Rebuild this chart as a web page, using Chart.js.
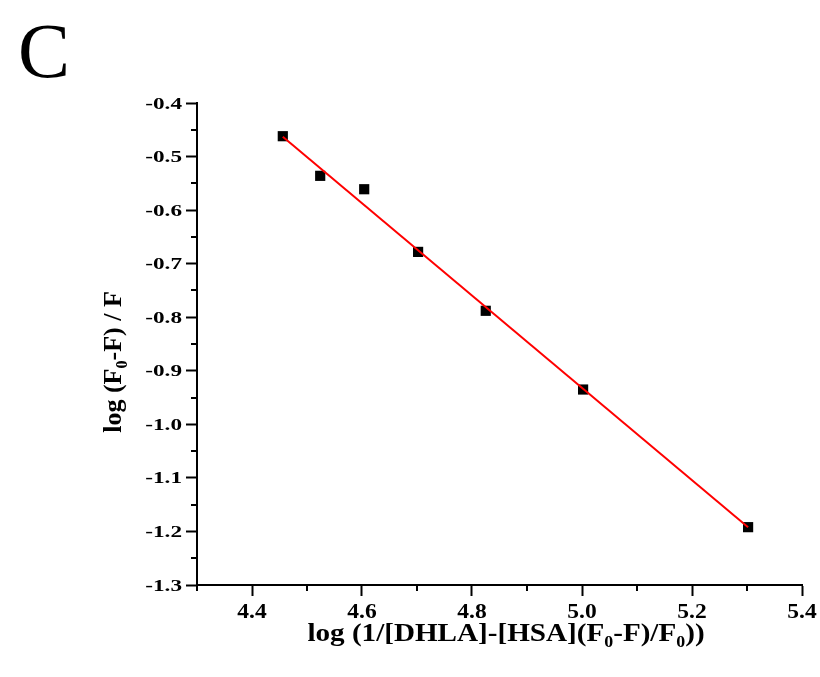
<!DOCTYPE html>
<html>
<head>
<meta charset="utf-8">
<script src="https://cdn.jsdelivr.net/npm/chart.js@4.4.1/dist/chart.umd.min.js"></script>
<style>
  html, body { margin: 0; padding: 0; background: #fff; }
  #wrap { width: 820px; height: 677px; }
</style>
</head>
<body>
<div id="wrap"><canvas id="chart"></canvas></div>
<script>
// measured points
const xValues = [4.456, 4.524, 4.604, 4.702, 4.825, 5.002, 5.302];
const yValues = [-0.462, -0.536, -0.561, -0.678, -0.788, -0.935, -1.192];

// linear fit end points
const fitX = [4.456, 5.302];
const fitY = [-0.463, -1.192];

// tick labels
const xTickLabels = ["4.4", "4.6", "4.8", "5.0", "5.2", "5.4"];
const yTickLabels = ["-0.4", "-0.5", "-0.6", "-0.7", "-0.8", "-0.9", "-1.0", "-1.1", "-1.2", "-1.3"];

const panelLetter = "C";
const xTitle = [["log (1/[DHLA]-[HSA](F", false], ["0", true], ["-F)/F", false], ["0", true], ["))", false]];
const yTitle = [["log (F", false], ["0", true], ["-F) / F", false]];

const SERIF = '"Liberation Serif", "Times New Roman", serif';

function fontFor(size, sub) {
  return "bold " + (sub ? Math.round(size * 0.62) : size) + "px " + SERIF;
}

// draw text with subscripts, centred on the current origin
function drawParts(ctx, parts, size, sx) {
  let w = 0;
  parts.forEach(([t, sub]) => {
    ctx.font = fontFor(size, sub);
    w += ctx.measureText(t).width;
  });
  let x = -w / 2;
  ctx.save();
  ctx.scale(sx, 1);
  ctx.textAlign = "left";
  ctx.textBaseline = "alphabetic";
  parts.forEach(([t, sub]) => {
    ctx.font = fontFor(size, sub);
    ctx.fillText(t, x, sub ? size * 0.24 : 0);
    x += ctx.measureText(t).width;
  });
  ctx.restore();
}

function minorValues(majors, min, max) {
  const out = [];
  for (let i = 0; i < majors.length - 1; i++) out.push((majors[i] + majors[i + 1]) / 2);
  const first = majors[0] - (majors[1] - majors[0]) / 2;
  if (first >= Math.min(min, max) - 1e-9 && first <= Math.max(min, max) + 1e-9) out.push(first);
  return out;
}

const textPlugin = {
  id: "textPlugin",
  afterDraw(chart) {
    const ctx = chart.ctx;
    const xs = chart.scales.x;
    const ys = chart.scales.y;
    const area = chart.chartArea;
    ctx.save();
    ctx.fillStyle = "#000";
    ctx.strokeStyle = "#000";

    // minor ticks
    ctx.lineWidth = 2;
    const xMaj = xTickLabels.map(parseFloat);
    minorValues(xMaj, xs.min, xs.max).forEach((v) => {
      const px = Math.round(xs.getPixelForValue(v));
      ctx.beginPath();
      ctx.moveTo(px, area.bottom);
      ctx.lineTo(px, area.bottom + 6);
      ctx.stroke();
    });
    const yMaj = yTickLabels.map(parseFloat);
    minorValues(yMaj, ys.min, ys.max).forEach((v) => {
      const py = Math.round(ys.getPixelForValue(v));
      ctx.beginPath();
      ctx.moveTo(area.left, py);
      ctx.lineTo(area.left - 6, py);
      ctx.stroke();
    });

    // tick labels
    xTickLabels.forEach((lab) => {
      const px = xs.getPixelForValue(parseFloat(lab));
      ctx.save();
      ctx.translate(px, 618);
      drawParts(ctx, [[lab, false]], 21, 1.12);
      ctx.restore();
    });
    yTickLabels.forEach((lab) => {
      const py = ys.getPixelForValue(parseFloat(lab));
      ctx.save();
      ctx.translate(182, py + 5.5);
      ctx.scale(1.45, 1);
      ctx.font = fontFor(16, false);
      ctx.textAlign = "right";
      ctx.textBaseline = "alphabetic";
      ctx.fillText(lab, 0, 0);
      ctx.restore();
    });

    // axis titles
    ctx.save();
    ctx.translate(506, 641);
    drawParts(ctx, xTitle, 26, 1.12);
    ctx.restore();

    ctx.save();
    ctx.translate(121, 362);
    ctx.rotate(-Math.PI / 2);
    drawParts(ctx, yTitle, 26, 1.0);
    ctx.restore();

    // panel letter
    ctx.font = "normal 78px " + SERIF;
    ctx.textAlign = "left";
    ctx.textBaseline = "alphabetic";
    ctx.fillText(panelLetter, 18, 77);

    ctx.restore();
  },
};

new Chart(document.getElementById("chart"), {
  type: "scatter",
  data: {
    datasets: [
      {
        label: "Fit",
        data: fitX.map((x, i) => ({ x: x, y: fitY[i] })),
        showLine: true,
        borderColor: "#ff0000",
        borderWidth: 2,
        pointRadius: 0,
        fill: false,
      },
      {
        label: "Data",
        data: xValues.map((x, i) => ({ x: x, y: yValues[i] })),
        pointStyle: "rect",
        pointRadius: 7.2,
        pointBackgroundColor: "#000",
        pointBorderColor: "#000",
        pointBorderWidth: 0,
      },
    ],
  },
  options: {
    responsive: true,
    maintainAspectRatio: false,
    animation: false,
    layout: { padding: { left: 0, right: 18, top: 103, bottom: 0 } },
    plugins: {
      legend: { display: false },
      tooltip: { enabled: false },
    },
    scales: {
      x: {
        type: "linear",
        min: 4.3,
        max: 5.4,
        afterBuildTicks: (scale) => {
          scale.ticks = xTickLabels.map((l) => ({ value: parseFloat(l) }));
        },
        afterFit: (scale) => {
          scale.height = 92;
        },
        ticks: { display: false },
        border: { display: true, color: "#000", width: 2 },
        grid: {
          display: true,
          drawOnChartArea: false,
          drawTicks: true,
          tickLength: 11,
          tickColor: "#000",
          tickWidth: 2,
        },
      },
      y: {
        type: "linear",
        min: -1.3,
        max: -0.4,
        afterBuildTicks: (scale) => {
          scale.ticks = yTickLabels.map((l) => ({ value: parseFloat(l) }));
        },
        afterFit: (scale) => {
          scale.width = 197;
        },
        ticks: { display: false },
        border: { display: true, color: "#000", width: 2 },
        grid: {
          display: true,
          drawOnChartArea: false,
          drawTicks: true,
          tickLength: 11,
          tickColor: "#000",
          tickWidth: 2,
        },
      },
    },
  },
  plugins: [textPlugin],
});
</script>
</body>
</html>
